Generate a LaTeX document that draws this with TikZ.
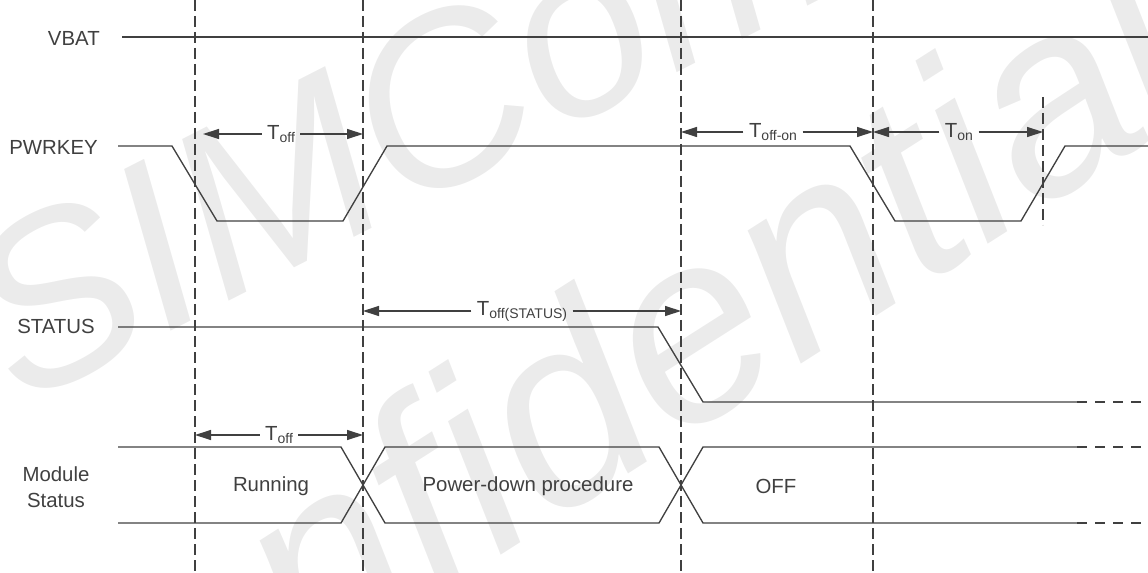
\documentclass[tikz,border=0pt]{standalone}
\usepackage{fontspec}
\setmainfont{Liberation Sans}
\usetikzlibrary{arrows.meta,positioning,calc}
\definecolor{wave}{HTML}{404040}
\definecolor{markgray}{HTML}{EBEBEB}
\newcommand{\tsub}[1]{\raisebox{-2.2pt}{\fontsize{10.5}{12}\selectfont #1}}

\begin{document}
\begin{tikzpicture}[x=0.75pt, y=-0.75pt,
    sig/.style={line width=1pt, color=wave},
    guide/.style={line width=0.9pt, color=wave, dash pattern=on 8pt off 4pt},
    tail/.style={line width=1pt, color=wave, dash pattern=on 7.5pt off 6pt},
    dim/.style={-{Triangle[length=12pt, width=7.5pt]}, line width=0.9pt, color=wave},
    signame/.style={text=wave, font=\fontsize{15.3}{19.5}\selectfont, inner sep=0pt},
    tlbl/.style={text=wave, font=\fontsize{15.3}{19}\selectfont, inner ysep=0pt, inner xsep=4pt},
    watermark/.style={text=markgray, inner sep=0pt, anchor=base west}]
    \useasboundingbox (0,0) rectangle (1148,573);
    %% Watermark
    \begin{scope}
        \clip (0,0) rectangle (1148,573);
        \node[watermark, rotate=27, font=\fontsize{180}{180}\selectfont\itshape] (wm1) at (20,408) {SIMCom};
        \node[watermark, rotate=32.5, font=\fontsize{200}{200}\selectfont\itshape] (wm2) at (22,860) {Confidential};
    \end{scope}
    %% Guides
    \coordinate (g1) at (195,0);
    \coordinate (g2) at (363,0);
    \coordinate (g3) at (681,0);
    \coordinate (g4) at (873,0);
    \coordinate (g5) at (1043,97);
    \draw[guide] (g1) -- (195,573);
    \draw[guide] (g2) -- (363,573);
    \draw[guide] (g3) -- (681,573);
    \draw[guide] (g4) -- (873,573);
    \draw[guide] (g5) -- (1043,225);
    %% Signal names
    \node[signame, anchor=east] (vbat) at (100,38) {VBAT};
    \node[signame, anchor=east] (pwrkey) at (98,147) {PWRKEY};
    \node[signame, anchor=east] (status) at (95,326) {STATUS};
    \node[signame, align=center] (module) at (56,487) {Module\\Status};
    %% VBAT
    \draw[sig] (122,37) -- (1148,37);
    %% PWRKEY
    \draw[sig] (118,146) -- (172,146) -- (217,221) -- (343,221) -- (387,146) -- (850,146) -- (895,221) -- (1021,221) -- (1065,146) -- (1148,146);
    %% STATUS
    \draw[sig] (118,327) -- (658,327) -- (703,402) -- (1077,402);
    \draw[tail] (1077,402) -- (1148,402);
    %% Module status
    \draw[sig] (118,447) -- (341,447) -- (385,523) -- (659,523) -- (703,447) -- (1077,447);
    \draw[sig] (118,523) -- (341,523) -- (385,447) -- (659,447) -- (703,523) -- (1077,523);
    \draw[tail] (1077,447) -- (1148,447);
    \draw[tail] (1077,523) -- (1148,523);
    \node[signame] (running) at (271,486) {Running};
    \node[signame] (pdown) at (528,486) {Power-down procedure};
    \node[signame] (off) at (776,486) {OFF};
    %% Timing marks
    \node[tlbl] (toff) at (281,134) {T\tsub{off}};
    \draw[dim] (toff.west) -- ($(toff.west -| g1)+(8,0)$);
    \draw[dim] (toff.east) -- (toff.east -| g2);
    \node[tlbl] (toffon) at (773,132) {T\tsub{off-on}};
    \draw[dim] (toffon.west) -- (toffon.west -| g3);
    \draw[dim] (toffon.east) -- (toffon.east -| g4);
    \node[tlbl] (ton) at (959,132) {T\tsub{on}};
    \draw[dim] (ton.west) -- (ton.west -| g4);
    \draw[dim] (ton.east) -- (ton.east -| g5);
    \node[tlbl] (tstat) at (522,311) {T\tsub{off(STATUS)}};
    \draw[dim] (tstat.west) -- (tstat.west -| g2);
    \draw[dim] (tstat.east) -- (tstat.east -| g3);
    \node[tlbl] (tmod) at (279,435) {T\tsub{off}};
    \draw[dim] (tmod.west) -- (tmod.west -| g1);
    \draw[dim] (tmod.east) -- (tmod.east -| g2);
\end{tikzpicture}
\end{document}
